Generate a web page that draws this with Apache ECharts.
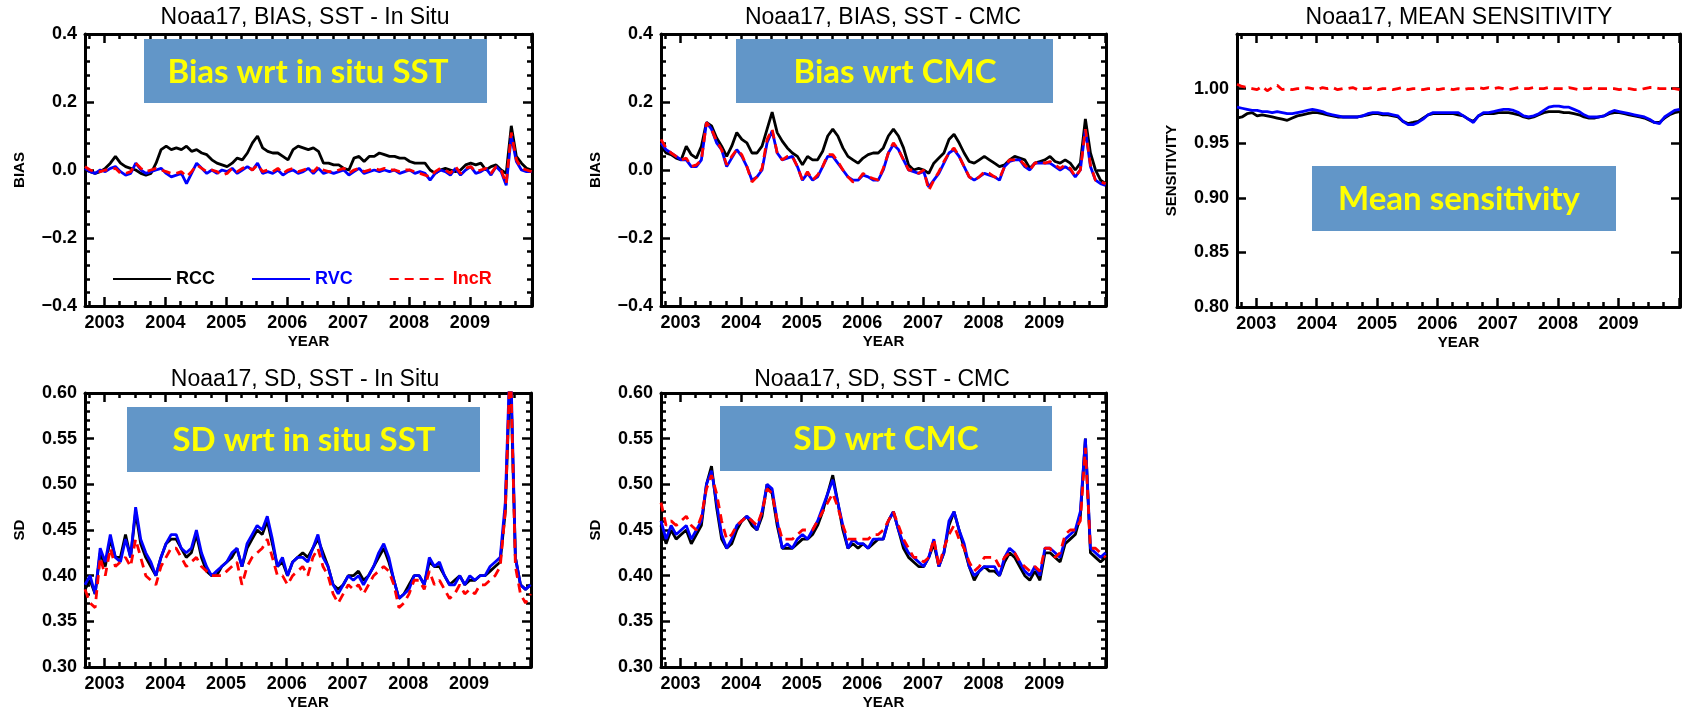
<!DOCTYPE html>
<html>
<head>
<meta charset="utf-8">
<title>Noaa17 SST monitoring</title>
<script src="https://cdn.jsdelivr.net/npm/echarts@6/dist/echarts.min.js"></script>
<style>
  html, body { margin: 0; padding: 0; background: #ffffff; }
  #chart { width: 1686px; height: 711px; }
</style>
</head>
<body>
<div id="chart"></div>
<script>
// Monthly sample times (decimal years), Sep 2002 .. Dec 2009
const sampleTimes = [];
for (let i = 0; i < 89; i++) sampleTimes.push(+(2002.68 + i / 12).toFixed(4));

const yearLabels = [2003, 2004, 2005, 2006, 2007, 2008, 2009];
const yearTicks = [2003, 2004, 2005, 2006, 2007, 2008, 2009, 2010];
const quarterTicks = [];
for (let y = 2002; y <= 2009; y++) {
  [0.25, 0.5, 0.75].forEach(q => { if (y + q > 2002.68) quarterTicks.push(y + q); });
}

// Bias, SST - in situ
const biasInSituRCC = [0.0,-0.005,-0.01,-0.005,0.005,0.02,0.04,0.02,0.01,0.005,
  0.0,-0.01,-0.015,-0.01,0.02,0.06,0.07,0.06,0.065,0.06,
  0.07,0.055,0.06,0.05,0.045,0.03,0.02,0.015,0.01,0.02,
  0.035,0.03,0.05,0.08,0.10,0.065,0.055,0.05,0.05,0.04,
  0.03,0.06,0.07,0.065,0.06,0.065,0.055,0.02,0.02,0.015,
  0.015,0.005,0.0,0.035,0.04,0.025,0.04,0.04,0.05,0.045,
  0.04,0.04,0.035,0.035,0.025,0.02,0.02,0.02,0.0,-0.01,
  0.0,0.005,0.0,-0.005,0.0,0.015,0.02,0.015,0.02,0.0,
  0.01,0.015,0.0,-0.01,0.13,0.04,0.02,0.005,0.0];
const biasInSituRVC = [0.005,-0.005,-0.01,0.0,-0.005,0.005,0.01,-0.005,-0.015,-0.01,
  0.02,0.0,-0.01,-0.005,0.0,0.005,-0.01,-0.02,-0.015,-0.01,
  -0.04,-0.01,0.02,0.005,-0.01,0.0,-0.01,0.0,-0.005,0.005,
  -0.01,0.0,0.01,0.0,0.02,-0.01,-0.005,-0.01,0.0,-0.015,
  -0.005,0.0,-0.01,-0.005,0.005,-0.01,0.005,-0.01,-0.005,-0.01,
  -0.005,0.0,-0.015,-0.005,0.005,-0.01,-0.005,0.0,-0.005,0.0,
  -0.005,0.0,-0.01,-0.005,0.0,-0.01,-0.005,-0.01,-0.03,-0.01,
  0.0,-0.005,-0.015,0.005,-0.015,0.0,0.01,-0.01,-0.005,0.005,
  -0.015,0.01,-0.005,-0.045,0.10,0.025,0.0,-0.005,-0.005];
const biasInSituIncR = [0.01,0.0,-0.005,-0.005,0.0,0.0,0.005,-0.01,-0.01,-0.005,
  0.02,0.005,-0.005,0.0,0.005,0.0,-0.005,-0.01,-0.01,-0.005,
  -0.02,-0.005,0.015,0.005,-0.005,0.0,-0.005,-0.015,-0.01,0.005,
  -0.005,0.005,0.01,0.0,0.015,-0.005,0.0,-0.005,0.005,-0.01,
  0.0,0.005,-0.005,0.0,0.005,-0.005,0.01,0.0,-0.005,-0.005,
  0.0,0.005,-0.01,0.0,0.005,-0.005,0.0,0.005,0.0,0.005,
  0.0,0.0,-0.005,0.0,0.0,-0.005,-0.01,-0.015,-0.02,-0.005,
  0.005,0.0,-0.01,0.01,-0.01,0.005,0.01,-0.005,0.0,0.005,
  -0.01,0.01,0.0,-0.04,0.11,0.03,0.005,0.0,-0.005];

// Bias, SST - CMC
const biasCmcRCC = [0.07,0.05,0.045,0.035,0.03,0.07,0.045,0.035,0.07,0.14,
  0.13,0.095,0.07,0.04,0.07,0.11,0.09,0.08,0.05,0.05,
  0.07,0.12,0.17,0.11,0.085,0.065,0.05,0.04,0.015,0.04,
  0.03,0.03,0.055,0.10,0.12,0.10,0.065,0.04,0.03,0.02,
  0.035,0.045,0.05,0.05,0.065,0.10,0.12,0.10,0.065,0.015,
  0.0,0.005,0.0,-0.01,0.02,0.035,0.05,0.09,0.105,0.08,
  0.05,0.025,0.02,0.03,0.04,0.03,0.02,0.01,0.015,0.03,
  0.04,0.035,0.03,0.005,0.02,0.025,0.03,0.04,0.025,0.02,
  0.03,0.02,0.0,0.02,0.15,0.05,0.0,-0.03,-0.04];
const biasCmcRVC = [0.08,0.06,0.05,0.04,0.03,0.03,0.01,0.01,0.03,0.14,
  0.12,0.08,0.06,0.01,0.035,0.06,0.04,0.01,-0.03,-0.02,
  0.0,0.08,0.115,0.05,0.03,0.035,0.04,0.01,-0.03,-0.01,
  -0.03,-0.02,0.01,0.04,0.04,0.02,0.0,-0.02,-0.03,-0.03,
  -0.015,-0.02,-0.03,-0.03,0.0,0.05,0.075,0.06,0.03,0.0,
  -0.005,-0.01,-0.005,-0.05,-0.03,-0.01,0.02,0.05,0.06,0.04,
  0.01,-0.02,-0.03,-0.02,-0.01,-0.015,-0.02,-0.03,0.01,0.025,
  0.03,0.03,0.01,0.0,0.02,0.02,0.02,0.02,0.01,0.0,
  0.01,0.0,-0.02,0.0,0.12,0.01,-0.03,-0.04,-0.045];
const biasCmcIncR = [0.09,0.065,0.05,0.04,0.03,0.035,0.01,0.015,0.03,0.14,
  0.12,0.085,0.06,0.015,0.04,0.06,0.045,0.01,-0.035,-0.02,
  0.005,0.09,0.12,0.05,0.03,0.04,0.04,0.01,-0.03,-0.005,
  -0.03,-0.015,0.01,0.045,0.045,0.025,0.0,-0.02,-0.035,-0.03,
  -0.01,-0.02,-0.025,-0.03,0.005,0.05,0.08,0.06,0.03,0.0,
  0.0,-0.01,0.0,-0.06,-0.03,-0.005,0.025,0.05,0.065,0.04,
  0.01,-0.02,-0.03,-0.02,-0.005,-0.01,-0.02,-0.025,0.01,0.03,
  0.03,0.03,0.015,0.0,0.02,0.025,0.02,0.025,0.015,0.005,
  0.015,0.005,-0.02,0.0,0.12,0.015,-0.03,-0.035,-0.04];

// Mean sensitivity
const sensRCC = [0.973,0.974,0.977,0.978,0.975,0.976,0.975,0.974,0.973,0.972,
  0.971,0.973,0.975,0.976,0.977,0.978,0.978,0.977,0.976,0.975,
  0.974,0.974,0.974,0.974,0.974,0.975,0.976,0.977,0.977,0.976,
  0.976,0.975,0.974,0.970,0.968,0.969,0.970,0.973,0.976,0.977,
  0.977,0.977,0.977,0.977,0.976,0.975,0.972,0.970,0.975,0.977,
  0.977,0.977,0.978,0.978,0.978,0.977,0.976,0.974,0.973,0.974,
  0.976,0.978,0.979,0.979,0.979,0.978,0.978,0.977,0.976,0.974,
  0.973,0.973,0.974,0.975,0.977,0.978,0.978,0.977,0.976,0.975,
  0.974,0.973,0.971,0.969,0.969,0.973,0.976,0.978,0.979];
const sensRVC = [0.983,0.982,0.981,0.980,0.980,0.979,0.979,0.978,0.979,0.978,
  0.977,0.977,0.978,0.979,0.980,0.981,0.980,0.979,0.977,0.976,
  0.975,0.974,0.974,0.974,0.974,0.975,0.977,0.978,0.978,0.977,
  0.977,0.976,0.975,0.970,0.967,0.967,0.969,0.972,0.976,0.978,
  0.978,0.978,0.978,0.978,0.978,0.975,0.972,0.969,0.975,0.978,
  0.978,0.979,0.980,0.981,0.981,0.980,0.978,0.975,0.974,0.975,
  0.977,0.980,0.983,0.984,0.984,0.983,0.983,0.981,0.979,0.976,
  0.974,0.974,0.974,0.975,0.978,0.980,0.979,0.978,0.977,0.976,
  0.975,0.974,0.972,0.969,0.968,0.974,0.977,0.980,0.981];
const sensIncR = [1.004,1.002,1.001,1.000,0.999,1.002,0.998,1.001,1.003,0.999,
  1.000,0.999,1.000,1.000,1.001,1.000,0.999,1.001,1.000,1.001,
  0.999,1.000,1.000,1.001,0.999,1.000,1.000,1.001,0.999,1.000,
  1.000,0.999,1.000,1.001,0.999,1.000,1.000,0.999,1.000,1.000,
  0.999,1.000,1.000,0.999,1.000,0.999,1.000,1.000,1.001,1.000,
  1.001,1.000,1.001,1.000,0.999,1.000,1.001,1.000,1.000,1.001,
  1.000,1.000,1.001,1.000,1.000,1.000,1.001,1.000,0.999,1.000,
  1.000,1.001,1.000,1.000,1.000,1.000,0.999,1.000,1.000,0.999,
  0.999,1.000,1.001,1.001,1.000,1.000,1.000,1.000,0.999];

// SD, SST - in situ
const sdInSituRCC = [0.385,0.395,0.38,0.425,0.41,0.44,0.42,0.42,0.445,0.42,
  0.47,0.435,0.42,0.41,0.40,0.42,0.435,0.44,0.44,0.43,
  0.42,0.425,0.445,0.42,0.405,0.40,0.40,0.41,0.415,0.42,
  0.43,0.41,0.43,0.44,0.45,0.445,0.46,0.435,0.41,0.415,
  0.40,0.415,0.42,0.425,0.42,0.43,0.44,0.425,0.41,0.39,
  0.385,0.39,0.40,0.40,0.405,0.395,0.40,0.41,0.42,0.43,
  0.415,0.395,0.375,0.38,0.39,0.40,0.40,0.39,0.415,0.41,
  0.41,0.40,0.39,0.395,0.40,0.39,0.395,0.395,0.40,0.40,
  0.405,0.41,0.415,0.47,0.63,0.42,0.39,0.385,0.39];
const sdInSituRVC = [0.39,0.40,0.38,0.43,0.415,0.445,0.42,0.415,0.44,0.42,
  0.475,0.44,0.425,0.415,0.40,0.42,0.435,0.445,0.445,0.43,
  0.425,0.43,0.45,0.425,0.41,0.40,0.405,0.41,0.415,0.425,
  0.43,0.41,0.435,0.445,0.455,0.45,0.465,0.44,0.41,0.42,
  0.40,0.415,0.42,0.42,0.415,0.43,0.445,0.42,0.41,0.39,
  0.38,0.39,0.40,0.395,0.40,0.39,0.40,0.41,0.425,0.435,
  0.42,0.395,0.375,0.38,0.385,0.40,0.40,0.39,0.42,0.41,
  0.415,0.40,0.39,0.39,0.40,0.39,0.40,0.395,0.40,0.40,
  0.41,0.415,0.42,0.48,0.65,0.42,0.39,0.385,0.39];
const sdInSituIncR = [0.385,0.37,0.365,0.42,0.40,0.43,0.41,0.415,0.42,0.41,
  0.44,0.42,0.40,0.395,0.39,0.41,0.42,0.43,0.43,0.42,
  0.41,0.415,0.42,0.41,0.405,0.40,0.40,0.40,0.405,0.41,
  0.415,0.39,0.41,0.42,0.425,0.43,0.44,0.42,0.40,0.40,
  0.39,0.40,0.405,0.41,0.40,0.42,0.43,0.41,0.40,0.38,
  0.37,0.38,0.39,0.385,0.39,0.38,0.39,0.40,0.405,0.41,
  0.405,0.39,0.365,0.37,0.38,0.395,0.395,0.385,0.405,0.39,
  0.395,0.385,0.375,0.38,0.39,0.38,0.385,0.38,0.39,0.39,
  0.395,0.40,0.41,0.47,0.64,0.41,0.38,0.37,0.38];

// SD, SST - CMC
const sdCmcRCC = [0.455,0.435,0.45,0.44,0.445,0.45,0.435,0.445,0.455,0.50,
  0.52,0.475,0.44,0.43,0.435,0.45,0.46,0.465,0.455,0.45,
  0.465,0.50,0.49,0.455,0.43,0.43,0.43,0.435,0.44,0.44,
  0.445,0.455,0.47,0.49,0.51,0.48,0.45,0.43,0.435,0.43,
  0.435,0.43,0.435,0.44,0.44,0.46,0.47,0.45,0.43,0.42,
  0.415,0.41,0.41,0.42,0.435,0.41,0.425,0.455,0.47,0.45,
  0.43,0.41,0.395,0.405,0.41,0.405,0.405,0.40,0.415,0.425,
  0.42,0.41,0.40,0.395,0.405,0.395,0.425,0.425,0.42,0.415,
  0.435,0.44,0.445,0.465,0.55,0.425,0.42,0.415,0.42];
const sdCmcRVC = [0.46,0.44,0.455,0.445,0.45,0.455,0.44,0.45,0.46,0.50,
  0.515,0.48,0.445,0.43,0.44,0.455,0.46,0.465,0.46,0.45,
  0.47,0.50,0.495,0.46,0.43,0.435,0.43,0.44,0.445,0.44,
  0.45,0.46,0.475,0.49,0.505,0.48,0.455,0.43,0.44,0.435,
  0.435,0.43,0.44,0.44,0.44,0.46,0.47,0.45,0.435,0.425,
  0.42,0.415,0.41,0.42,0.44,0.41,0.425,0.46,0.47,0.45,
  0.435,0.41,0.40,0.405,0.41,0.41,0.41,0.40,0.42,0.43,
  0.425,0.415,0.405,0.40,0.41,0.40,0.43,0.43,0.425,0.42,
  0.44,0.445,0.45,0.47,0.55,0.43,0.425,0.42,0.425];
const sdCmcIncR = [0.48,0.455,0.46,0.455,0.46,0.465,0.455,0.45,0.465,0.495,
  0.51,0.49,0.46,0.44,0.445,0.455,0.46,0.465,0.46,0.455,
  0.47,0.495,0.49,0.46,0.44,0.44,0.44,0.445,0.45,0.45,
  0.45,0.46,0.47,0.48,0.49,0.475,0.455,0.44,0.44,0.44,
  0.44,0.44,0.445,0.445,0.45,0.46,0.47,0.455,0.44,0.43,
  0.42,0.42,0.415,0.42,0.44,0.41,0.43,0.445,0.455,0.44,
  0.43,0.415,0.405,0.41,0.42,0.42,0.42,0.41,0.42,0.425,
  0.425,0.415,0.41,0.405,0.41,0.405,0.43,0.43,0.42,0.425,
  0.445,0.45,0.45,0.46,0.54,0.43,0.43,0.425,0.42];

const panelTitles = ['Noaa17, BIAS, SST - In Situ', 'Noaa17, BIAS, SST - CMC',
  'Noaa17, MEAN SENSITIVITY', 'Noaa17, SD, SST - In Situ', 'Noaa17, SD, SST - CMC'];
const panelYNames = ['BIAS', 'BIAS', 'SENSITIVITY', 'SD', 'SD'];
const boxNotes = ['Bias wrt in situ SST', 'Bias wrt CMC', 'Mean sensitivity',
  'SD wrt in situ SST', 'SD wrt CMC'];

const biasLabels = [-0.4, -0.2, 0.0, 0.2, 0.4];
const biasMinor = [-0.36,-0.32,-0.28,-0.24,-0.16,-0.12,-0.08,-0.04,0.04,0.08,0.12,0.16,0.24,0.28,0.32,0.36];
const sensLabels = [0.80, 0.85, 0.90, 0.95, 1.00];
const sensTicks = [0.80, 0.85, 0.90, 0.95, 1.00, 1.05];
const sdLabels = [0.30, 0.35, 0.40, 0.45, 0.50, 0.55, 0.60];
const sdMinor = [];
for (let k = 30; k < 60; k++) if (k % 5 !== 0) sdMinor.push(k / 100);

// ---------- layout ----------
const FONT = '"Liberation Sans", Arial, Helvetica, sans-serif';
const NOTE_FONT = 'Lato, "Open Sans", sans-serif';
const X_MIN = 2002.68, X_MAX = 2010.02;

const grids = [
  { left: 85,   top: 34,  width: 447, height: 272 },
  { left: 661,  top: 34,  width: 445, height: 272 },
  { left: 1237, top: 34,  width: 443, height: 273 },
  { left: 85,   top: 393, width: 446, height: 274 },
  { left: 661,  top: 393, width: 445, height: 274 }
];

const yConf = [
  { min: -0.4, max: 0.4, labels: biasLabels, major: biasLabels, minor: biasMinor,
    fmt: v => (v < -1e-9 ? '\u2212' : '') + Math.abs(v).toFixed(1) },
  { min: -0.4, max: 0.4, labels: biasLabels, major: biasLabels, minor: biasMinor,
    fmt: v => (v < -1e-9 ? '\u2212' : '') + Math.abs(v).toFixed(1) },
  { min: 0.80, max: 1.05, labels: sensLabels, major: sensTicks, minor: [],
    fmt: v => v.toFixed(2) },
  { min: 0.30, max: 0.60, labels: sdLabels, major: sdLabels, minor: sdMinor,
    fmt: v => v.toFixed(2) },
  { min: 0.30, max: 0.60, labels: sdLabels, major: sdLabels, minor: sdMinor,
    fmt: v => v.toFixed(2) }
];

const tickStyle = { color: '#000', width: 2.5 };
const boxLine = { show: true, onZero: false, lineStyle: { color: '#000', width: 3 } };
const noLine = { show: false, onZero: false };
const labelStyle = { color: '#000', fontSize: 18, fontWeight: 'bold', fontFamily: FONT };
const nameStyle = { color: '#000', fontSize: 15, fontWeight: 'bold', fontFamily: FONT };

const xAxes = [], yAxes = [];
grids.forEach((g, gi) => {
  const base = { type: 'value', gridIndex: gi, min: X_MIN, max: X_MAX, splitLine: { show: false } };
  xAxes.push(Object.assign({}, base, {
    position: 'bottom', axisLine: boxLine,
    axisTick: { show: true, inside: true, length: 9, lineStyle: tickStyle, customValues: yearTicks },
    axisLabel: Object.assign({ customValues: yearLabels, margin: 8,
      formatter: v => String(Math.round(v)) }, labelStyle),
    name: 'YEAR', nameLocation: 'middle', nameGap: 28, nameTextStyle: nameStyle,
    nameMoveOverlap: false
  }));
  xAxes.push(Object.assign({}, base, {
    position: 'bottom', axisLine: noLine,
    axisTick: { show: true, inside: true, length: 5, lineStyle: tickStyle, customValues: quarterTicks },
    axisLabel: { show: false }
  }));
  xAxes.push(Object.assign({}, base, {
    position: 'top', axisLine: boxLine,
    axisTick: { show: true, inside: true, length: 9, lineStyle: tickStyle, customValues: yearTicks },
    axisLabel: { show: false }
  }));
  xAxes.push(Object.assign({}, base, {
    position: 'top', axisLine: noLine,
    axisTick: { show: true, inside: true, length: 5, lineStyle: tickStyle, customValues: quarterTicks },
    axisLabel: { show: false }
  }));

  const c = yConf[gi];
  const ybase = { type: 'value', gridIndex: gi, min: c.min, max: c.max, splitLine: { show: false } };
  yAxes.push(Object.assign({}, ybase, {
    position: 'left', axisLine: boxLine,
    axisTick: { show: true, inside: true, length: 9, lineStyle: tickStyle, customValues: c.major },
    axisLabel: Object.assign({ customValues: c.labels, margin: 8, formatter: c.fmt }, labelStyle),
    name: panelYNames[gi], nameLocation: 'middle', nameGap: 58, nameRotate: 90,
    nameTextStyle: nameStyle, nameMoveOverlap: false
  }));
  yAxes.push(Object.assign({}, ybase, {
    position: 'left', axisLine: noLine,
    axisTick: { show: c.minor.length > 0, inside: true, length: 5, lineStyle: tickStyle,
      customValues: c.minor.length ? c.minor : [c.min] },
    axisLabel: { show: false }
  }));
  yAxes.push(Object.assign({}, ybase, {
    position: 'right', axisLine: boxLine,
    axisTick: { show: true, inside: true, length: 9, lineStyle: tickStyle, customValues: c.major },
    axisLabel: { show: false }
  }));
  yAxes.push(Object.assign({}, ybase, {
    position: 'right', axisLine: noLine,
    axisTick: { show: c.minor.length > 0, inside: true, length: 5, lineStyle: tickStyle,
      customValues: c.minor.length ? c.minor : [c.min] },
    axisLabel: { show: false }
  }));
});

const panelData = [
  [biasInSituRCC, biasInSituRVC, biasInSituIncR],
  [biasCmcRCC, biasCmcRVC, biasCmcIncR],
  [sensRCC, sensRVC, sensIncR],
  [sdInSituRCC, sdInSituRVC, sdInSituIncR],
  [sdCmcRCC, sdCmcRVC, sdCmcIncR]
];
const seriesNames = ['RCC', 'RVC', 'IncR'];
const seriesLines = [
  { color: '#000000', width: 2.8, type: 'solid' },
  { color: '#0000ff', width: 2.8, type: 'solid' },
  { color: '#ff0000', width: 2.8, type: [9, 6] }
];

const series = [];
panelData.forEach((arrs, gi) => {
  arrs.forEach((vals, si) => {
    series.push({
      type: 'line', name: seriesNames[si],
      xAxisIndex: gi * 4, yAxisIndex: gi * 4,
      data: sampleTimes.map((t, i) => [t, vals[i]]),
      symbol: 'none', showSymbol: false, clip: true,
      lineStyle: seriesLines[si], itemStyle: { color: seriesLines[si].color },
      z: 2 + si
    });
  });
});

// titles and annotation boxes
const titlePos = [[305, 18], [883, 18], [1459, 18], [305, 380], [882, 380]];
const notes = [
  { x: 144, y: 39, w: 343, h: 64, tx: 308, ty: 72 },
  { x: 736, y: 39, w: 317, h: 64, tx: 895, ty: 72 },
  { x: 1312, y: 166, w: 304, h: 65, tx: 1459, ty: 199 },
  { x: 127, y: 407, w: 353, h: 65, tx: 304, ty: 440 },
  { x: 720, y: 406, w: 332, h: 65, tx: 886, ty: 439 }
];
const graphics = [];
panelTitles.forEach((t, i) => {
  graphics.push({
    type: 'text', x: titlePos[i][0], y: titlePos[i][1],
    style: { text: t, fill: '#000', font: '23px ' + FONT, textAlign: 'center', textVerticalAlign: 'middle' }
  });
});
notes.forEach((n, i) => {
  graphics.push({
    type: 'rect', shape: { x: n.x, y: n.y, width: n.w, height: n.h },
    style: { fill: '#6296c8' }, z: 10
  });
  graphics.push({
    type: 'text', x: n.tx, y: n.ty, z: 11,
    style: { text: boxNotes[i], fill: '#ffff00', font: 'bold 33px ' + NOTE_FONT,
      textAlign: 'center', textVerticalAlign: 'middle' }
  });
});

const chart = echarts.init(document.getElementById('chart'), null, { renderer: 'canvas' });
chart.setOption({
  animation: false,
  backgroundColor: '#ffffff',
  grid: grids.map(g => Object.assign({ outerBoundsMode: 'none', containLabel: false }, g)),
  xAxis: xAxes,
  yAxis: yAxes,
  legend: {
    left: 107, top: 265, itemWidth: 58, itemHeight: 14, itemGap: 36,
    selectedMode: false,
    itemStyle: { opacity: 0 },
    textStyle: { fontSize: 18, fontWeight: 'bold', fontFamily: FONT },
    data: [
      { name: 'RCC', textStyle: { color: '#000000' } },
      { name: 'RVC', textStyle: { color: '#0000ff' } },
      { name: 'IncR', textStyle: { color: '#ff0000' } }
    ]
  },
  graphic: { elements: graphics },
  series: series
});
</script>
</body>
</html>
